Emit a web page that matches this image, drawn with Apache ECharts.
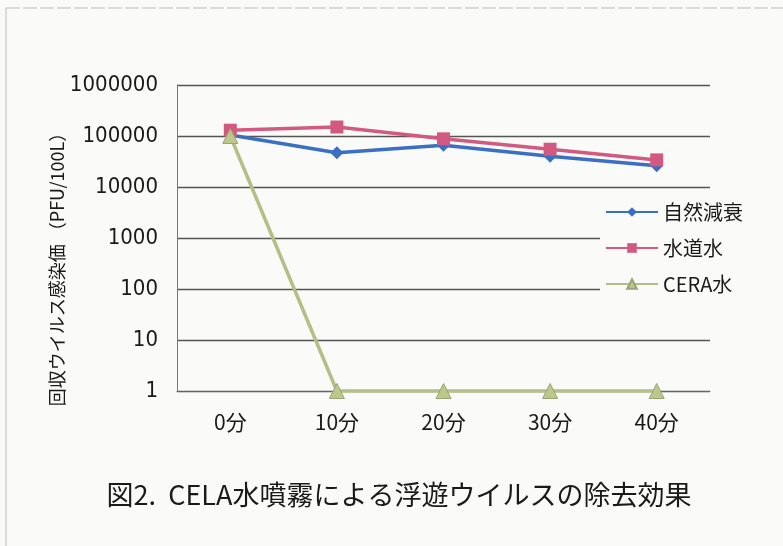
<!DOCTYPE html>
<html><head><meta charset="utf-8">
<script src="https://cdn.jsdelivr.net/npm/echarts@6/dist/echarts.min.js"></script>
<style>html,body{margin:0;padding:0;background:#fafaf8;}#c{width:783px;height:546px;}</style>
</head><body><div id="c"></div>
<script>
const categories = ['0分', '10分', '20分', '30分', '40分'];
const natural = [105000, 47000, 66000, 40000, 26000];
const tapWater = [130000, 150000, 88000, 55000, 34000];
const ceraWater = [100000, 1, 1, 1, 1];
const seriesNames = ['自然減衰', '水道水', 'CERA水'];
const yAxisTitle = '回収ウイルス感染価 （PFU/100L）';
const chartTitle = '図2.  CELA水噴霧による浮遊ウイルスの除去効果';

const chart = echarts.init(document.getElementById('c'));
const jp = "'Noto Sans CJK JP', sans-serif";
const num = "'DejaVu Sans Condensed', 'Liberation Sans', sans-serif";
chart.setOption({
  backgroundColor: '#fafaf8',
  animation: false,
  grid: { left: 177, right: 73, top: 85, bottom: 155 },
  xAxis: {
    type: 'category', data: categories, boundaryGap: true,
    axisLine: { show: true, lineStyle: { color: '#666', width: 1 } },
    axisTick: { show: false },
    axisLabel: { color: '#1a1a1a', fontSize: 21, margin: 21, fontFamily: jp }
  },
  yAxis: {
    type: 'log', logBase: 10, min: 1, max: 1000000, splitNumber: 6,
    axisLine: { show: true, lineStyle: { color: '#777', width: 1 } },
    axisTick: { show: false },
    splitLine: { show: true, lineStyle: { color: '#555', width: 1.3 } },
    axisLabel: { color: '#1a1a1a', fontSize: 22, margin: 19, fontFamily: num,
      formatter: v => String(Math.round(v)) }
  },
  legend: {
    orient: 'vertical', left: 600, top: 196,
    backgroundColor: '#fafaf8', padding: [6, 6, 6, 5],
    itemWidth: 52, itemHeight: 12, itemGap: 16,
    textStyle: { color: '#1a1a1a', fontSize: 20, lineHeight: 20, fontFamily: jp },
    data: seriesNames
  },
  graphic: [
    { type: 'text', x: 57, y: 265, rotation: Math.PI / 2,
      style: { text: yAxisTitle, fill: '#1a1a1a', font: "18px 'Noto Sans CJK JP'", textAlign: 'center', textVerticalAlign: 'middle' } },
    { type: 'text', x: 399, y: 495,
      style: { text: chartTitle, fill: '#1a1a1a', font: "27px 'Noto Sans CJK JP'", textAlign: 'center', textVerticalAlign: 'middle' } },
    { type: 'line', shape: { x1: 6, y1: 8, x2: 783, y2: 8 }, style: { stroke: '#bbb', lineWidth: 1, lineDash: [14, 3] } },
    { type: 'line', shape: { x1: 6, y1: 8, x2: 6, y2: 546 }, style: { stroke: '#bbb', lineWidth: 1 } }
  ],
  series: [
    { name: seriesNames[0], type: 'line', data: natural, symbol: 'diamond', symbolSize: 13,
      itemStyle: { color: '#3a6fc4' }, lineStyle: { color: '#3a6fc4', width: 3.5 } },
    { name: seriesNames[1], type: 'line', data: tapWater, symbol: 'rect', symbolSize: 13,
      itemStyle: { color: '#d25a80' }, lineStyle: { color: '#d25a80', width: 3.5 } },
    { name: seriesNames[2], type: 'line', data: ceraWater, symbol: 'triangle', symbolSize: 15,
      itemStyle: { color: '#bcc888', borderColor: '#9aa47a', borderWidth: 1 }, lineStyle: { color: '#b3bf84', width: 3.5 } }
  ]
});
</script></body></html>
